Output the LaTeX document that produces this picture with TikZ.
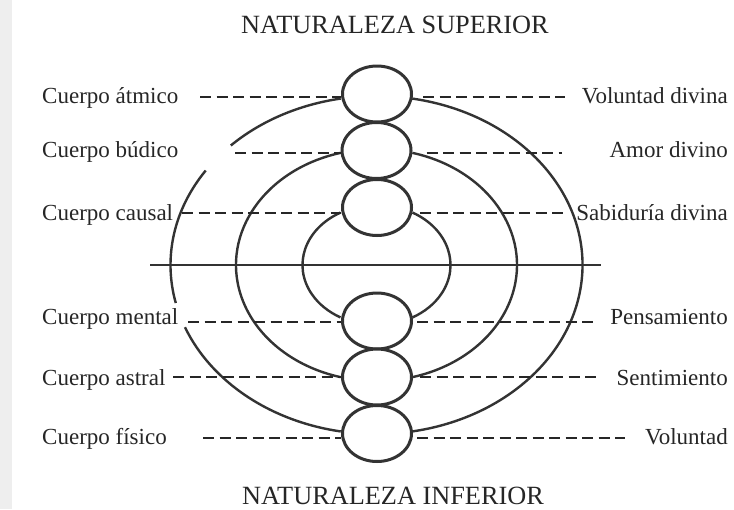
\documentclass[tikz,border=0pt]{standalone}
\usepackage{fontspec}
\setmainfont{Liberation Serif}
\usetikzlibrary{shapes.geometric}
\definecolor{ink}{HTML}{262626}
\definecolor{lineink}{HTML}{333333}
\begin{document}
\begin{tikzpicture}[x=1pt,y=-1pt,
  lbl/.style={font=\fontsize{23}{27}\selectfont, inner sep=0pt, text=ink},
  ttl/.style={font=\fontsize{26.3}{30}\selectfont, inner sep=0pt, text=ink},
  ring/.style={ellipse, draw=lineink, fill=white, line width=3pt, minimum width=69pt, minimum height=56pt, inner sep=0pt},
  arcline/.style={draw=lineink, line width=2.4pt},
  dashline/.style={draw=ink, line width=2pt, dash pattern=on 11pt off 5.5pt}]
\useasboundingbox (0,0) rectangle (734,509);
\fill[white] (0,0) rectangle (734,509);
\fill[gray!13] (0,0) rectangle (12,509);

% titles
\node[ttl, anchor=base] (top) at (395,33) {NATURALEZA SUPERIOR};
\node[ttl, anchor=base] (bottom) at (393,504) {NATURALEZA INFERIOR};

% left labels
\node[lbl, anchor=base west] (la) at (42,103) {Cuerpo átmico};
\node[lbl, anchor=base west] (lb) at (42,157) {Cuerpo búdico};
\node[lbl, anchor=base west] (ls) at (42,220) {Cuerpo causal};
\node[lbl, anchor=base west] (lm) at (42,324) {Cuerpo mental};
\node[lbl, anchor=base west] (lr) at (42,385) {Cuerpo astral};
\node[lbl, anchor=base west] (lf) at (42,444) {Cuerpo físico};

% right labels
\node[lbl, anchor=base east] (ra) at (728,103) {Voluntad divina};
\node[lbl, anchor=base east] (rb) at (728,157) {Amor divino};
\node[lbl, anchor=base east] (rs) at (728,220) {Sabiduría divina};
\node[lbl, anchor=base east] (rm) at (728,324) {Pensamiento};
\node[lbl, anchor=base east] (rr) at (728,385) {Sentimiento};
\node[lbl, anchor=base east] (rf) at (728,444) {Voluntad};

% horizontal line
\coordinate (hl) at (150,265);
\coordinate (hr) at (601,265);
\draw[arcline] (hl) -- (hr);

% arcs (ellipses centred on the horizontal line)
\coordinate (ctr) at (376.5,265);
% outer
\draw[arcline] (ctr) ++(260:206 and 169) arc[start angle=260, end angle=225, x radius=206, y radius=169];
\draw[arcline] (ctr) ++(214:206 and 169) arc[start angle=214, end angle=167, x radius=206, y radius=169];
\draw[arcline] (ctr) ++(158.4:206 and 169) arc[start angle=158.4, end angle=100, x radius=206, y radius=169];
\draw[arcline] (ctr) ++(-80:206 and 169) arc[start angle=-80, end angle=80, x radius=206, y radius=169];
% middle
\draw[arcline] (ctr) ++(255.2:140.5 and 116) arc[start angle=255.2, end angle=104.8, x radius=140.5, y radius=116];
\draw[arcline] (ctr) ++(-75.2:140.5 and 116) arc[start angle=-75.2, end angle=75.2, x radius=140.5, y radius=116];
% inner
\draw[arcline] (ctr) ++(240.9:74 and 60) arc[start angle=240.9, end angle=119.1, x radius=74, y radius=60];
\draw[arcline] (ctr) ++(-60.9:74 and 60) arc[start angle=-60.9, end angle=60.9, x radius=74, y radius=60];

% free ends of the dashed lines
\coordinate (a1) at (200,96.5);
\coordinate (b1) at (235,153);
\coordinate (s1) at (182,212.5);
\coordinate (m1) at (188,321.5);
\coordinate (r1) at (173,377);
\coordinate (f1) at (203,438);
\coordinate (a2) at (565,96.5);
\coordinate (b2) at (562,153);
\coordinate (s2) at (567,212.5);
\coordinate (m2) at (594,321.5);
\coordinate (r2) at (601,377);
\coordinate (f2) at (625,438);

% small circles
\node[ring] (c1) at (377,94) {};
\node[ring] (c2) at (376.5,150.5) {};
\node[ring] (c3) at (377,207.5) {};
\node[ring] (c4) at (377,321) {};
\node[ring] (c5) at (377,377) {};
\node[ring] (c6) at (377,433.5) {};

% dashed connectors
\draw[dashline] (a1) -- (a1 -| c1.west);
\draw[dashline] (b1) -- (b1 -| c2.west);
\draw[dashline] (s1) -- (s1 -| c3.west);
\draw[dashline] (m1) -- (m1 -| c4.west);
\draw[dashline] (r1) -- (r1 -| c5.west);
\draw[dashline] (f1) -- (f1 -| c6.west);

\draw[dashline] ([xshift=10pt]c1.east |- a2) -- (a2);
\draw[dashline] ([xshift=14pt]c2.east |- b2) -- (b2);
\draw[dashline] ([xshift=7pt]c3.east |- s2) -- (s2);
\draw[dashline] ([xshift=4pt]c4.east |- m2) -- (m2);
\draw[dashline] ([xshift=7pt]c5.east |- r2) -- (r2);
\draw[dashline] ([xshift=4pt]c6.east |- f2) -- (f2);
\end{tikzpicture}
\end{document}
